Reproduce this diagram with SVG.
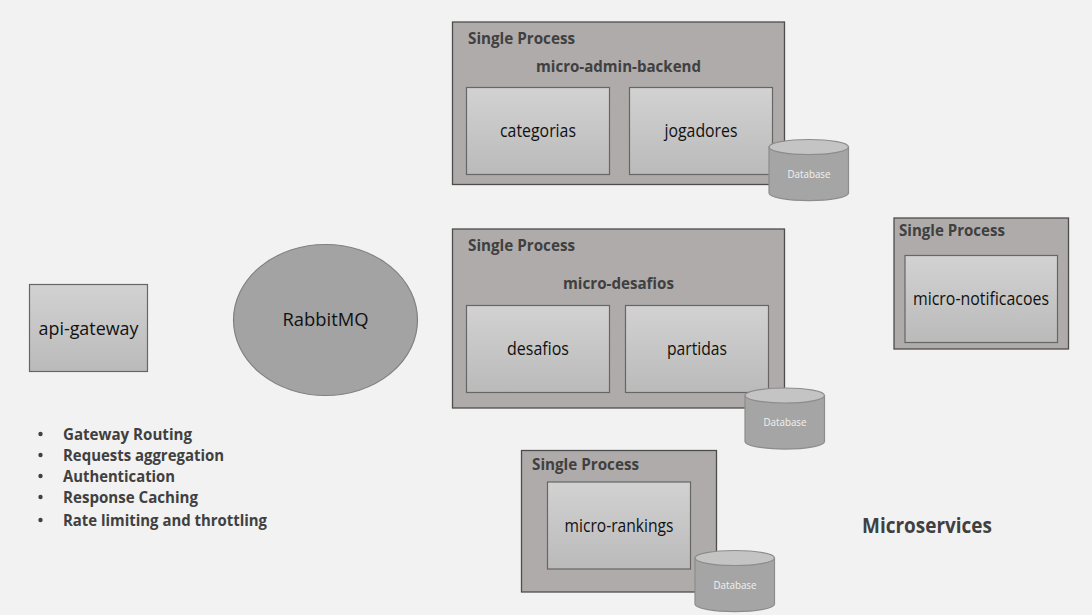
<svg xmlns="http://www.w3.org/2000/svg" width="1092" height="615" viewBox="0 0 1092 615">
<style>
text{font-family:"Open Sans","Noto Sans","Liberation Sans",sans-serif}
.proc{fill:#afabaa;stroke:#4d4d4d;stroke-width:1.3}
.box{fill:url(#boxGrad);stroke:#666;stroke-width:1.2}
.head{font-size:16px;font-weight:700;fill:#404040}
.lab{font-size:17.5px;fill:#111;text-anchor:middle}
.bul{font-size:16px;font-weight:700;fill:#404040}
.dot{fill:#404040}
.dbb{fill:#a5a5a5;stroke:#8c8c8c;stroke-width:1.2}
.dbt{fill:#c4c4c4;stroke:#8c8c8c;stroke-width:1.2}
.dbl{font-size:10px;fill:#f2f2f2;text-anchor:middle}
</style>
<defs>
<linearGradient id="boxGrad" x1="0" y1="0" x2="0" y2="1"><stop offset="0" stop-color="#d2d2d2"/><stop offset="1" stop-color="#bababa"/></linearGradient>
<symbol id="db" overflow="visible"><path class="dbb" d="M0 7.500V53.500A39.500 7.500 0 0 0 79.500 53.500V7.500Z"/><ellipse class="dbt" cx="39.750" cy="7.500" rx="39.750" ry="7.500"/><text class="dbl" x="40" y="38" textLength="43" lengthAdjust="spacingAndGlyphs">Database</text></symbol>
</defs>
<rect width="1092" height="615" fill="#f2f2f2"/>
<g id="connectors"/>
<g id="api-gateway"><rect class="box" x="29.500" y="284.500" width="118" height="87"/><text class="lab" x="88.500" y="335" textLength="100" lengthAdjust="spacingAndGlyphs">api-gateway</text></g>
<g id="rabbitmq"><ellipse cx="325.500" cy="320" rx="92" ry="75.500" fill="#a3a3a3" stroke="#808080" stroke-width="1.2"/><text class="lab" x="325.500" y="326" textLength="86" lengthAdjust="spacingAndGlyphs">RabbitMQ</text></g>
<g id="features">
<circle class="dot" cx="40.500" cy="434" r="2.200"/><text class="bul" x="63" y="440" textLength="129" lengthAdjust="spacingAndGlyphs">Gateway Routing</text>
<circle class="dot" cx="40.500" cy="455" r="2.200"/><text class="bul" x="63" y="461" textLength="161" lengthAdjust="spacingAndGlyphs">Requests aggregation</text>
<circle class="dot" cx="40.500" cy="476" r="2.200"/><text class="bul" x="63" y="482" textLength="112" lengthAdjust="spacingAndGlyphs">Authentication</text>
<circle class="dot" cx="40.500" cy="497" r="2.200"/><text class="bul" x="63" y="503" textLength="135" lengthAdjust="spacingAndGlyphs">Response Caching</text>
<circle class="dot" cx="40.500" cy="520" r="2.200"/><text class="bul" x="63" y="526" textLength="204" lengthAdjust="spacingAndGlyphs">Rate limiting and throttling</text>
</g>
<g id="micro-admin-backend">
<rect class="proc" x="452.500" y="22" width="332" height="162.500"/>
<text class="head" x="468" y="44" textLength="107" lengthAdjust="spacingAndGlyphs">Single Process</text>
<text class="head" x="536" y="72" textLength="165" lengthAdjust="spacingAndGlyphs">micro-admin-backend</text>
<rect class="box" x="466.500" y="87.500" width="143" height="87"/><text class="lab" x="538" y="137" textLength="76" lengthAdjust="spacingAndGlyphs">categorias</text>
<rect class="box" x="629.500" y="87.500" width="143" height="87"/><text class="lab" x="701" y="137" textLength="73" lengthAdjust="spacingAndGlyphs">jogadores</text>
<use href="#db" x="769" y="139.500"/>
</g>
<g id="micro-desafios">
<rect class="proc" x="452.500" y="229" width="332" height="179"/>
<text class="head" x="468" y="251" textLength="107" lengthAdjust="spacingAndGlyphs">Single Process</text>
<text class="head" x="563" y="289" textLength="111" lengthAdjust="spacingAndGlyphs">micro-desafios</text>
<rect class="box" x="466.500" y="305.500" width="143" height="87"/><text class="lab" x="538" y="355" textLength="62" lengthAdjust="spacingAndGlyphs">desafios</text>
<rect class="box" x="625.500" y="305.500" width="143" height="87"/><text class="lab" x="697" y="355" textLength="60" lengthAdjust="spacingAndGlyphs">partidas</text>
<use href="#db" x="745" y="388"/>
</g>
<g id="micro-rankings">
<rect class="proc" x="521.500" y="450.500" width="195" height="141.500"/>
<text class="head" x="532" y="470" textLength="107" lengthAdjust="spacingAndGlyphs">Single Process</text>
<rect class="box" x="547.500" y="482" width="143" height="87"/><text class="lab" x="619" y="532" textLength="109" lengthAdjust="spacingAndGlyphs">micro-rankings</text>
<use href="#db" x="695" y="550.500"/>
</g>
<g id="micro-notificacoes">
<rect class="proc" x="894" y="218" width="174.500" height="131"/>
<text class="head" x="899" y="236" textLength="106" lengthAdjust="spacingAndGlyphs">Single Process</text>
<rect class="box" x="905" y="255.500" width="152.500" height="87"/><text class="lab" x="981" y="305" textLength="136" lengthAdjust="spacingAndGlyphs">micro-notificacoes</text>
</g>
<text id="microservices" x="862" y="533" font-size="20.500" font-weight="700" fill="#404040" textLength="130" lengthAdjust="spacingAndGlyphs">Microservices</text>
</svg>
